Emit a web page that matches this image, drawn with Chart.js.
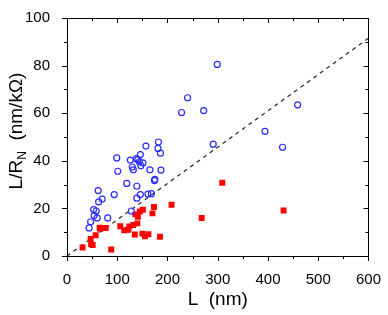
<!DOCTYPE html>
<html>
<head>
<meta charset="utf-8">
<script src="https://cdn.jsdelivr.net/npm/chart.js@4.4.0/dist/chart.umd.min.js"></script>
<style>
html,body{margin:0;padding:0;background:#fff;}
#wrap{width:388px;height:315px;position:relative;}
</style>
</head>
<body>
<div id="wrap"><canvas id="c" width="388" height="315"></canvas></div>
<script>
// Blue open circles: L (nm), L/RN (nm/kOhm)
const blueL = [228,182,181,186,157,99,126,138,141,146,144,151,147,130,132,165,187,101,119,139,175,174,62,94,146,161,168,70,63,139,128,53,58,54,60,81,47,44,299,240,272,459,394,291,429];
const blueV = [60.3,47.9,45.2,43.2,46.2,41.2,40.3,40.9,40.5,42.6,39.6,39.1,37.9,37.4,36.2,36.2,36.1,35.6,30.5,29.3,32.2,31.7,27.5,25.8,25.8,26.0,26.2,23.9,22.7,24.3,18.9,19.5,18.9,17.0,16.0,16.0,14.4,11.8,80.5,66.5,61.1,63.5,52.4,47.0,45.7];
// Red filled squares
const redL = [208,173,170,151,145,136,141,140,132,124,106,114,122,135,150,155,162,185,88,77,70,65,66,57,47,48,51,31,309,268,431];
const redV = [21.5,20.6,17.9,19.4,18.7,17.5,16.5,13.7,13.0,12.4,12.5,10.8,11.0,9.0,9.4,8.3,9.1,8.1,2.7,11.8,11.7,11.9,11.4,8.7,7.2,5.0,4.6,3.6,30.8,16.0,19.1];
// Dashed reference line
const lineL = [0,600];
const lineV = [0,91.5];
const xTicks = [0,100,200,300,400,500,600];
const yTicks = [0,20,40,60,80,100];

const pts = (xs, ys) => xs.map((x,i)=>({x:x,y:ys[i]}));

const frame = {
  id:'frame',
  afterDraw(chart){
    const {ctx, chartArea:a, scales:{x,y}} = chart;
    ctx.save();
    ctx.strokeStyle='#000';
    ctx.lineWidth=1;
    ctx.beginPath();
    ctx.rect(Math.round(a.left)+0.5, Math.round(a.top)+0.5, Math.round(a.right-a.left), Math.round(a.bottom-a.top));
    ctx.stroke();
    ctx.beginPath();
    for(let v=0; v<=600; v+=50){
      const px = Math.round(x.getPixelForValue(v))+0.5;
      const len = (v%100===0)?5:3;
      ctx.moveTo(px, a.bottom); ctx.lineTo(px, a.bottom+len);
      ctx.moveTo(px, a.top); ctx.lineTo(px, a.top+len);
    }
    for(let v=0; v<=100; v+=10){
      const py = Math.round(y.getPixelForValue(v))+0.5;
      const len = (v%20===0)?5:3;
      ctx.moveTo(a.left, py); ctx.lineTo(a.left-len, py);
      ctx.moveTo(a.right, py); ctx.lineTo(a.right-len, py);
    }
    ctx.stroke();
    // axis titles
    ctx.fillStyle='#000';
    ctx.font='19px "Liberation Sans", Arial, sans-serif';
    ctx.textAlign='center';
    ctx.textBaseline='alphabetic';
    ctx.fillText('L  (nm)', (a.left+a.right)/2, 305);
    // y title rotated
    ctx.translate(22, 131);
    ctx.rotate(-Math.PI/2);
    const f1='19px "Liberation Sans", Arial, sans-serif';
    const f2='12px "Liberation Sans", Arial, sans-serif';
    const p1='L/R', p2='N', p3='  (nm/k\u03A9)';
    ctx.font=f1; const w1=ctx.measureText(p1).width; const w3=ctx.measureText(p3).width;
    ctx.font=f2; const w2=ctx.measureText(p2).width;
    let sx = -(w1+w2+w3)/2;
    ctx.textAlign='left';
    ctx.font=f1; ctx.fillText(p1, sx, 0); sx+=w1;
    ctx.font=f2; ctx.fillText(p2, sx, 4); sx+=w2;
    ctx.font=f1; ctx.fillText(p3, sx, 0);
    ctx.restore();
  }
};

new Chart(document.getElementById('c'), {
  type:'scatter',
  data:{datasets:[
    {type:'line', data:pts(lineL,lineV), borderColor:'#222', borderWidth:1.2, borderDash:[4,4], pointRadius:0, fill:false, order:3},
    {data:pts(redL,redV), pointStyle:'rect', pointRadius:4.2, backgroundColor:'#ff0000', borderColor:'#ff0000', borderWidth:0, order:2},
    {data:pts(blueL,blueV), pointStyle:'circle', pointRadius:3, backgroundColor:'rgba(0,0,0,0)', borderColor:'#2a2aff', borderWidth:1.2, order:1}
  ]},
  options:{
    responsive:false, animation:false,
    layout:{padding:{left:0,right:15,top:7,bottom:0}},
    plugins:{legend:{display:false}, tooltip:{enabled:false}},
    scales:{
      x:{type:'linear', min:0, max:600,
        grid:{display:false}, border:{display:false},
        afterBuildTicks:s=>{s.ticks=xTicks.map(v=>({value:v}));},
        ticks:{color:'#000', padding:7, maxRotation:0, font:{family:'"Liberation Sans", Arial, sans-serif', size:15}},
        afterFit:s=>{s.height=59;}
      },
      y:{type:'linear', min:0, max:100,
        grid:{display:false}, border:{display:false},
        afterBuildTicks:s=>{s.ticks=yTicks.map(v=>({value:v}));},
        ticks:{color:'#000', padding:9, font:{family:'"Liberation Sans", Arial, sans-serif', size:15}},
        afterFit:s=>{s.width=67;}
      }
    }
  },
  plugins:[frame]
});
</script>
</body>
</html>
